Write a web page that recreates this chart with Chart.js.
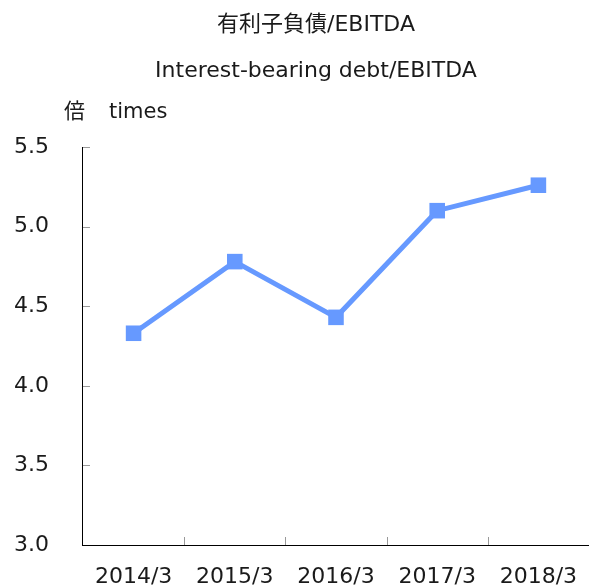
<!DOCTYPE html>
<html>
<head>
<meta charset="utf-8">
<script src="https://cdn.jsdelivr.net/npm/chart.js@4/dist/chart.umd.min.js"></script>
<style>
  body { margin: 0; background: #fff; }
  canvas { display: block; }
</style>
</head>
<body>
<canvas id="debtChart" width="589" height="588"></canvas>
<script>
// data
var years = ['2014/3', '2015/3', '2016/3', '2017/3', '2018/3'];
var debtRatio = [4.33, 4.78, 4.43, 5.10, 5.26];
var titleLines = ['有利子負債/EBITDA', 'Interest-bearing debt/EBITDA'];
var unitJa = '倍';
var unitEn = 'times';
var yMin = 3.0;
var yMax = 5.5;
var yStep = 0.5;

var fontFamily = '"DejaVu Sans", "Noto Sans CJK JP", sans-serif';
var textColor = '#1a1a1a';
var lineColor = '#6699ff';

// header texts, unit label and the small tick marks inside the plot
var extras = {
  id: 'extras',
  afterDraw: function (chart) {
    var ctx = chart.ctx;
    var area = chart.chartArea;
    var x = chart.scales.x;
    var y = chart.scales.y;
    ctx.save();
    ctx.strokeStyle = '#999';
    ctx.lineWidth = 1;
    ctx.beginPath();
    for (var i = 1; i < y.ticks.length; i++) {
      var py = Math.round(y.getPixelForTick(i)) + 0.5;
      ctx.moveTo(area.left, py);
      ctx.lineTo(area.left + 7, py);
    }
    for (var j = 1; j < years.length; j++) {
      var px = Math.round((x.getPixelForTick(j - 1) + x.getPixelForTick(j)) / 2) + 0.5;
      ctx.moveTo(px, area.bottom);
      ctx.lineTo(px, area.bottom - 8);
    }
    ctx.stroke();

    ctx.fillStyle = textColor;
    ctx.textBaseline = 'middle';
    ctx.textAlign = 'center';
    ctx.font = '22px ' + fontFamily;
    ctx.fillText(titleLines[0], 316, 25);
    ctx.fillText(titleLines[1], 316, 71);

    ctx.textAlign = 'left';
    ctx.font = '21px ' + fontFamily;
    ctx.fillText(unitJa, area.left - 19, area.top - 34);
    ctx.fillText(unitEn, area.left + 26, area.top - 34);
    ctx.restore();
  }
};

var ctx = document.getElementById('debtChart').getContext('2d');
var chart = new Chart(ctx, {
  type: 'line',
  data: {
    labels: years,
    datasets: [{
      label: titleLines[1],
      data: debtRatio,
      borderColor: lineColor,
      backgroundColor: lineColor,
      borderWidth: 5,
      pointStyle: 'rect',
      pointRadius: 11,
      pointBorderWidth: 0,
      pointBackgroundColor: lineColor,
      tension: 0,
      fill: false
    }]
  },
  options: {
    responsive: false,
    animation: false,
    devicePixelRatio: 1,
    layout: { autoPadding: false, padding: { left: 14, right: 0, top: 147, bottom: 0 } },
    plugins: {
      legend: { display: false },
      tooltip: { enabled: false },
      title: { display: false }
    },
    scales: {
      x: {
        offset: true,
        grid: { display: true, offset: true, drawOnChartArea: false, drawTicks: true, tickLength: 21, tickColor: 'rgba(0,0,0,0)' },
        border: { display: true, color: '#000', width: 1 },
        ticks: { color: textColor, padding: 0, maxRotation: 0, font: { family: fontFamily, size: 22, lineHeight: 1 } }
      },
      y: {
        min: yMin,
        max: yMax,
        grid: { display: true, drawOnChartArea: false, drawTicks: true, tickLength: 34, tickColor: 'rgba(0,0,0,0)' },
        border: { display: true, color: '#000', width: 1 },
        ticks: {
          stepSize: yStep,
          color: textColor,
          padding: 0,
          font: { family: fontFamily, size: 22 },
          callback: function (v) { return Number(v).toFixed(1); }
        }
      }
    }
  },
  plugins: [extras]
});
</script>
</body>
</html>
